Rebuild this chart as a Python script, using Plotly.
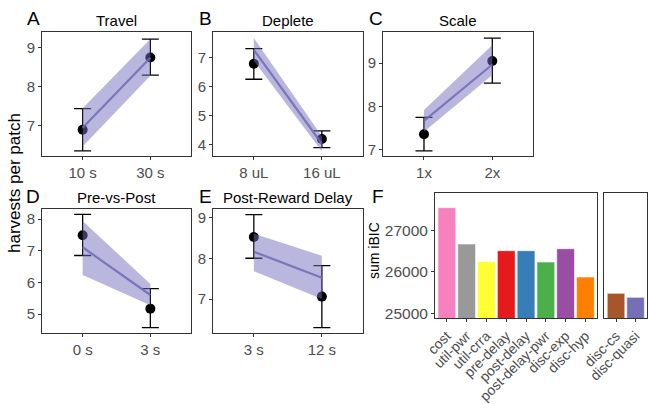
import plotly.graph_objects as go

W, H = 648, 404

# ---------------- data ----------------
travel_x = ["10 s", "30 s"]
travel_mean = [6.90, 8.75]
travel_err_hi = [7.44, 9.22]
travel_err_lo = [6.36, 8.30]
travel_fit = [6.95, 8.74]
travel_rib_lo = [6.47, 8.28]
travel_rib_hi = [7.45, 9.22]

deplete_x = ["8 uL", "16 uL"]
deplete_mean = [6.78, 4.20]
deplete_err_hi = [7.30, 4.48]
deplete_err_lo = [6.25, 3.91]
deplete_fit = [7.26, 4.04]
deplete_rib_lo = [6.88, 3.78]
deplete_rib_hi = [7.66, 4.30]

scale_x = ["1x", "2x"]
scale_mean = [7.36, 9.05]
scale_err_hi = [7.75, 9.58]
scale_err_lo = [6.98, 8.54]
scale_fit = [7.67, 8.97]
scale_rib_lo = [7.42, 8.73]
scale_rib_hi = [7.92, 9.42]

prepost_x = ["0 s", "3 s"]
prepost_mean = [7.49, 5.17]
prepost_err_hi = [8.15, 5.80]
prepost_err_lo = [6.85, 4.57]
prepost_fit = [7.11, 5.60]
prepost_rib_lo = [6.23, 5.28]
prepost_rib_hi = [7.94, 5.95]

postrew_x = ["3 s", "12 s"]
postrew_mean = [8.52, 7.06]
postrew_err_hi = [9.07, 7.82]
postrew_err_lo = [8.00, 6.30]
postrew_fit = [8.16, 7.52]
postrew_rib_lo = [7.68, 7.00]
postrew_rib_hi = [8.60, 8.06]

models_a = ["cost", "util-pwr", "util-crra", "pre-delay", "post-delay",
            "post-delay-pwr", "disc-exp", "disc-hyp"]
ibic_a = [27557, 26678, 26257, 26516, 26516, 26242, 26564, 25879]
colors_a = ["#F781BF", "#999999", "#FFFF33", "#E41A1C", "#377EB8",
            "#4DAF4A", "#984EA3", "#FF7F00"]
models_b = ["disc-cs", "disc-quasi"]
ibic_b = [25484, 25387]
colors_b = ["#A65628", "#7570B3"]

# ---------------- layout helpers ----------------
FONT = "Liberation Sans, Arial, sans-serif"
TICKC = "#4D4D4D"
LINEC = "#333333"


def xd(a, b):
    return [a / W, b / W]


def yd(top, bot):
    return [1 - bot / H, 1 - top / H]


panels = [
    (travel_x, travel_mean, travel_err_hi, travel_err_lo, travel_fit, travel_rib_lo, travel_rib_hi,
     (42, 191), (32, 156), [6.23, 9.40], [7, 8, 9], "Travel"),
    (deplete_x, deplete_mean, deplete_err_hi, deplete_err_lo, deplete_fit, deplete_rib_lo, deplete_rib_hi,
     (213, 362.7), (32, 156), [3.62, 7.87], [4, 5, 6, 7], "Deplete"),
    (scale_x, scale_mean, scale_err_hi, scale_err_lo, scale_fit, scale_rib_lo, scale_rib_hi,
     (383, 533.3), (32, 156), [6.86, 9.72], [7, 8, 9], "Scale"),
    (prepost_x, prepost_mean, prepost_err_hi, prepost_err_lo, prepost_fit, prepost_rib_lo, prepost_rib_hi,
     (42, 191), (209.3, 333.3), [4.39, 8.31], [5, 6, 7, 8], "Pre-vs-Post"),
    (postrew_x, postrew_mean, postrew_err_hi, postrew_err_lo, postrew_fit, postrew_rib_lo, postrew_rib_hi,
     (213, 362.7), (209.3, 333.3), [6.16, 9.20], [7, 8, 9], "Post-Reward Delay"),
]

fig = go.Figure()
layout = dict(
    width=W, height=H, margin=dict(l=0, r=0, t=0, b=0, autoexpand=False),
    paper_bgcolor="white", plot_bgcolor="white", showlegend=False,
    font=dict(family=FONT, color="black", size=13),
    bargap=0.1,
)
annotations = []

axis_common = dict(showline=True, mirror=True, linecolor=LINEC, linewidth=1,
                   ticks="outside", ticklen=3, tickwidth=1, tickcolor=LINEC,
                   showgrid=False, zeroline=False, automargin=False,
                   tickfont=dict(family=FONT, size=15, color=TICKC))

for i, (cx, mean, ehi, elo, fit, rlo, rhi, xdom, ydom, yr, ytv, title) in enumerate(panels, start=1):
    xa = "x" if i == 1 else f"x{i}"
    ya = "y" if i == 1 else f"y{i}"
    xkey = "xaxis" if i == 1 else f"xaxis{i}"
    ykey = "yaxis" if i == 1 else f"yaxis{i}"
    layout[xkey] = dict(domain=xd(*xdom), anchor=ya, type="category",
                        categoryorder="array", categoryarray=cx,
                        range=[-0.6, 1.6], **axis_common)
    layout[ykey] = dict(domain=yd(*ydom), anchor=xa, range=yr, tickvals=ytv,
                        **axis_common)
    # points with error bars
    fig.add_trace(go.Scatter(
        x=cx, y=mean, mode="markers", xaxis=xa, yaxis=ya,
        marker=dict(color="black", size=10),
        error_y=dict(type="data", symmetric=False,
                     array=[h - m for h, m in zip(ehi, mean)],
                     arrayminus=[m - l for l, m in zip(elo, mean)],
                     color="black", thickness=1.3, width=8.5),
        hoverinfo="skip"))
    # ribbon
    fig.add_trace(go.Scatter(
        x=[cx[0], cx[1], cx[1], cx[0], cx[0]],
        y=[rlo[0], rlo[1], rhi[1], rhi[0], rlo[0]],
        mode="lines", fill="toself", line=dict(width=0),
        fillcolor="rgba(117,112,190,0.5)", xaxis=xa, yaxis=ya, hoverinfo="skip"))
    # fitted line
    fig.add_trace(go.Scatter(
        x=cx, y=fit, mode="lines", xaxis=xa, yaxis=ya,
        line=dict(color="rgba(112,106,180,0.85)", width=2.2), hoverinfo="skip"))
    xc = (xdom[0] + xdom[1]) / 2
    ty = ydom[0] - 12
    annotations.append(dict(text=title, x=xc / W, y=1 - ty / H, xref="paper", yref="paper",
                            showarrow=False, xanchor="center", yanchor="middle",
                            font=dict(family=FONT, size=15, color="black")))

# panel letters
for letter, px, py in [("A", 33, 18), ("B", 205, 18), ("C", 376, 18),
                       ("D", 33, 196), ("E", 205, 196), ("F", 378, 196)]:
    annotations.append(dict(text=letter, x=px / W, y=1 - py / H, xref="paper", yref="paper",
                            showarrow=False, xanchor="center", yanchor="middle",
                            font=dict(family=FONT, size=19, color="black")))

# ---------------- panel F ----------------
fig.add_trace(go.Bar(x=models_a, y=ibic_a, marker=dict(color=colors_a, line=dict(width=0.6, color="white")),
                     xaxis="x6", yaxis="y6", hoverinfo="skip"))
fig.add_trace(go.Bar(x=models_b, y=ibic_b, marker=dict(color=colors_b, line=dict(width=0.6, color="white")),
                     xaxis="x7", yaxis="y7", hoverinfo="skip"))

f_common = dict(axis_common)
f_common["tickfont"] = dict(family=FONT, size=14, color=TICKC)
f_yrange = [24879, 27905]
layout["xaxis6"] = dict(domain=xd(435, 597.3), anchor="y6", type="category",
                        categoryorder="array", categoryarray=models_a,
                        range=[-0.6, 7.6], tickangle=-45, **f_common)
fy = dict(axis_common)
fy["tickfont"] = dict(family=FONT, size=15.5, color=TICKC)
layout["yaxis6"] = dict(domain=yd(193.3, 318.3), anchor="x6", range=f_yrange,
                        tickvals=[25000, 26000, 27000], tickformat="d", **fy)
layout["xaxis7"] = dict(domain=xd(604.3, 647.3), anchor="y7", type="category",
                        categoryorder="array", categoryarray=models_b,
                        range=[-0.6, 1.6], tickangle=-45, **f_common)
ax7 = dict(axis_common)
ax7.update(ticks="", showticklabels=False)
layout["yaxis7"] = dict(domain=yd(193.3, 318.3), anchor="x7", range=f_yrange, **ax7)

# axis titles
annotations.append(dict(text="harvests per patch", x=15 / W, y=1 - 183 / H, xref="paper", yref="paper",
                        showarrow=False, textangle=-90, xanchor="center", yanchor="middle",
                        font=dict(family=FONT, size=17, color="black")))
annotations.append(dict(text="sum iBIC", x=374 / W, y=1 - 251 / H, xref="paper", yref="paper",
                        showarrow=False, textangle=-90, xanchor="center", yanchor="middle",
                        font=dict(family=FONT, size=14, color="black")))

layout["annotations"] = annotations
fig.update_layout(**layout)
fig.write_html("out.html", config={"displayModeBar": False},
               post_script="document.body.style.margin='0px';document.body.style.padding='0px';")
